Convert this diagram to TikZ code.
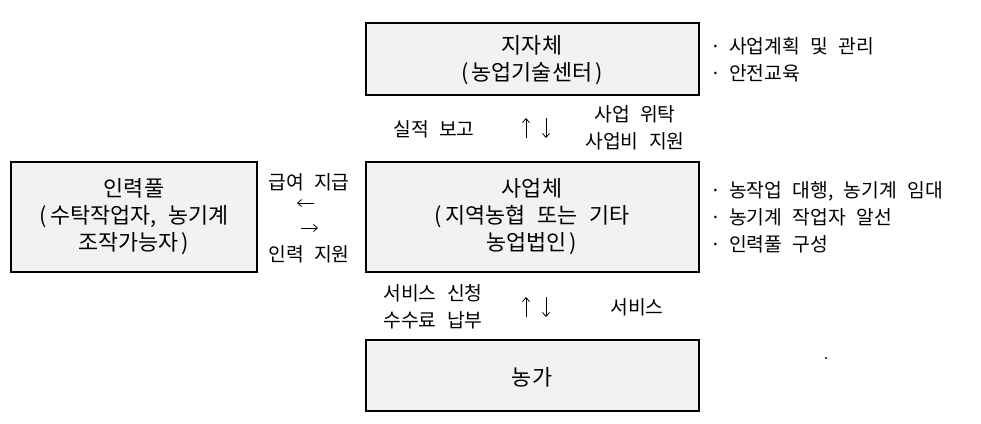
\documentclass[tikz,border=0pt]{standalone}
\usepackage{fontspec}
\usetikzlibrary{arrows.meta}
\setmainfont{Noto Sans CJK KR}[WordSpace=2.4]
\definecolor{boxgray}{HTML}{F2F2F2}
\newcommand{\pg}{\hspace{3pt}}
\begin{document}
\begin{tikzpicture}[x=1pt,y=-1pt,
  every node/.style={font=\fontsize{19.3}{27}\selectfont, inner sep=0pt, align=center},
  big/.style={font=\fontsize{21.8}{27}\selectfont},
  box/.style={draw=black, line width=1.2pt, fill=boxgray},
  garrow/.style={line width=0.8pt, -{Straight Barb[length=4pt,width=7pt]}},
  bul/.style={anchor=west, align=left}]
\useasboundingbox (0,0) rectangle (981,423);
% boxes
\draw[box] (366,23) rectangle (699,95);
\draw[box] (366,162) rectangle (699,272);
\draw[box] (366,340) rectangle (699,411);
\draw[box] (11,162) rectangle (257,272);
% box texts
\node[big] (top) at (532,60) {지자체\\(\pg 농업기술센터\pg)};
\node[big] (mid) at (532,217) {사업체\\(\pg 지역농협 또는 기타\\농업법인\pg)};
\node[big] (bot) at (532,377) {농가};
\node[big] (pool) at (134,217) {인력풀\\(\pg 수탁작업자, 농기계\\조작가능자\pg)};
% left labels
\node (pay) at (309,182) {급여 지급};
\node (sup) at (309,254) {인력 지원};
\coordinate (la1) at (314,203); \coordinate (la2) at (297,203);
\coordinate (ra1) at (301,228); \coordinate (ra2) at (318,228);
\draw[garrow] (la1) -- (la2);
\draw[garrow] (ra1) -- (ra2);
% upper labels
\node (rep) at (434,129) {실적 보고};
\coordinate (u1a) at (526,138); \coordinate (u1b) at (526,118);
\coordinate (d1a) at (546,118); \coordinate (d1b) at (546,138);
\draw[garrow] (u1a) -- (u1b);
\draw[garrow] (d1a) -- (d1b);
\node (dele) at (635,128) {사업 위탁\\사업비 지원};
% lower labels
\node (req) at (433,307) {서비스 신청\\수수료 납부};
\coordinate (u2a) at (526,317); \coordinate (u2b) at (526,297);
\coordinate (d2a) at (546,297); \coordinate (d2b) at (546,317);
\draw[garrow] (u2a) -- (u2b);
\draw[garrow] (d2a) -- (d2b);
\node (svc) at (637,307) {서비스};
% bullets
\node[bul] (b1) at (710,60) {·\hspace{8pt}사업계획 및 관리\\·\hspace{8pt}안전교육};
\node[bul] (b2) at (710,217) {·\hspace{8pt}농작업 대행, 농기계 임대\\·\hspace{8pt}농기계 작업자 알선\\·\hspace{8pt}인력풀 구성};
\fill (826,358) circle (1.2);
\end{tikzpicture}
\end{document}
